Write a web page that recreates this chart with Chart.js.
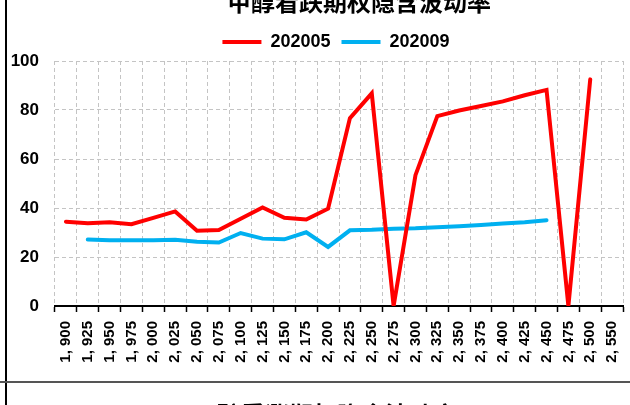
<!DOCTYPE html>
<html>
<head>
<meta charset="utf-8">
<script src="https://cdn.jsdelivr.net/npm/chart.js@4.4.0/dist/chart.umd.min.js"></script>
<style>
  html, body { margin: 0; padding: 0; background: #fff; }
  #wrap { position: relative; width: 630px; height: 405px; overflow: hidden; }
  #chart { position: absolute; left: 0; top: 0; }
  .cap { position: absolute; font-family: "Noto Sans CJK SC"; font-weight: 700; font-size: 24px; line-height: 24px; white-space: nowrap; color: #000; }
  #title { left: 227px; top: -11px; }
  #nextTitle { left: 193px; top: 402px; }
  #frameLeft { position: absolute; left: 5px; top: 0; width: 2px; height: 405px; background: #000; }
  #frameBottom { position: absolute; left: 0; top: 381px; width: 630px; height: 2px; background: #555; }
</style>
</head>
<body>
<div id="wrap">
  <canvas id="chart" width="630" height="405"></canvas>
  <div id="title" class="cap">甲醇看跌期权隐含波动率</div>
  <div id="nextTitle" class="cap">甲醇看涨期权隐含波动率</div>
  <div id="frameLeft"></div>
  <div id="frameBottom"></div>
</div>
<script>
// strike prices (x categories)
const strikes = [1900, 1925, 1950, 1975, 2000, 2025, 2050, 2075, 2100, 2125, 2150, 2175, 2200,
  2225, 2250, 2275, 2300, 2325, 2350, 2375, 2400, 2425, 2450, 2475, 2500, 2550]
const strikeLabels = strikes.map(v => Math.floor(v / 1000) + ', ' + String(v % 1000).padStart(3, '0'))

// implied volatility, %
const iv202005 = [34.4, 33.8, 34.2, 33.4, 36.0, 38.6, 30.7, 31.0, 35.6, 40.2, 36.0, 35.3, 39.7,
  76.7, 86.8, 0, 53.4, 77.5, 79.8, 81.6, 83.5, 86.0, 88.2, 0, 92.5, null]
const iv202009 = [null, 27.1, 26.8, 26.8, 26.8, 27.0, 26.2, 25.9, 29.8, 27.5, 27.2, 30.1, 24.1,
  30.9, 31.1, 31.5, 31.7, 32.1, 32.6, 33.1, 33.7, 34.2, 35.0, null, null, null]

const yMin = 0
const yMax = 100
const yStep = 20

const axisFont = { family: "'Liberation Sans', Arial, sans-serif", weight: 'bold' }

// legend sits a bit right of the canvas centre in the original
const legendShift = {
  id: 'legendShift',
  afterLayout(chart) {
    chart.legend.left += 22
    chart.legend.right += 22
  }
}

new Chart(document.getElementById('chart'), {
  type: 'line',
  data: {
    labels: strikeLabels,
    datasets: [{
      label: '202005',
      data: iv202005,
      borderColor: '#ff0000',
      backgroundColor: '#ff0000',
      borderWidth: 4,
      borderCapStyle: 'round',
      pointRadius: 0,
      tension: 0
    }, {
      label: '202009',
      data: iv202009,
      borderColor: '#00b0f0',
      backgroundColor: '#00b0f0',
      borderWidth: 4,
      borderCapStyle: 'round',
      pointRadius: 0,
      tension: 0
    }]
  },
  options: {
    responsive: false,
    animation: false,
    layout: { padding: { left: 5, right: 7, top: 22, bottom: 0 } },
    plugins: {
      title: { display: false },
      tooltip: { enabled: false },
      legend: {
        position: 'top',
        labels: {
          usePointStyle: true,
          pointStyle: 'line',
          pointStyleWidth: 39,
          padding: 11,
          color: '#000',
          font: { ...axisFont, size: 18 }
        }
      }
    },
    scales: {
      x: {
        offset: true,
        grid: {
          offset: true,
          color: '#c4c4c4',
          lineWidth: 1,
          tickColor: '#000',
          tickWidth: 1.5,
          tickLength: 6
        },
        border: { color: '#000', width: 2, dash: [4, 3] },
        ticks: {
          autoSkip: false,
          minRotation: 90,
          maxRotation: 90,
          padding: 9,
          color: '#000',
          font: { ...axisFont, size: 15 }
        },
        afterFit(scale) {
          scale.height = 99
          scale.paddingLeft = 0
          scale.paddingRight = 0
        }
      },
      y: {
        min: yMin,
        max: yMax,
        grid: { color: '#c4c4c4', lineWidth: 1, drawTicks: false },
        border: { display: false, dash: [4, 3] },
        ticks: {
          stepSize: yStep,
          padding: 16,
          color: '#000',
          font: { ...axisFont, size: 17 }
        },
        afterFit(scale) { scale.width = 50 }
      }
    }
  },
  plugins: [legendShift]
})
</script>
</body>
</html>
